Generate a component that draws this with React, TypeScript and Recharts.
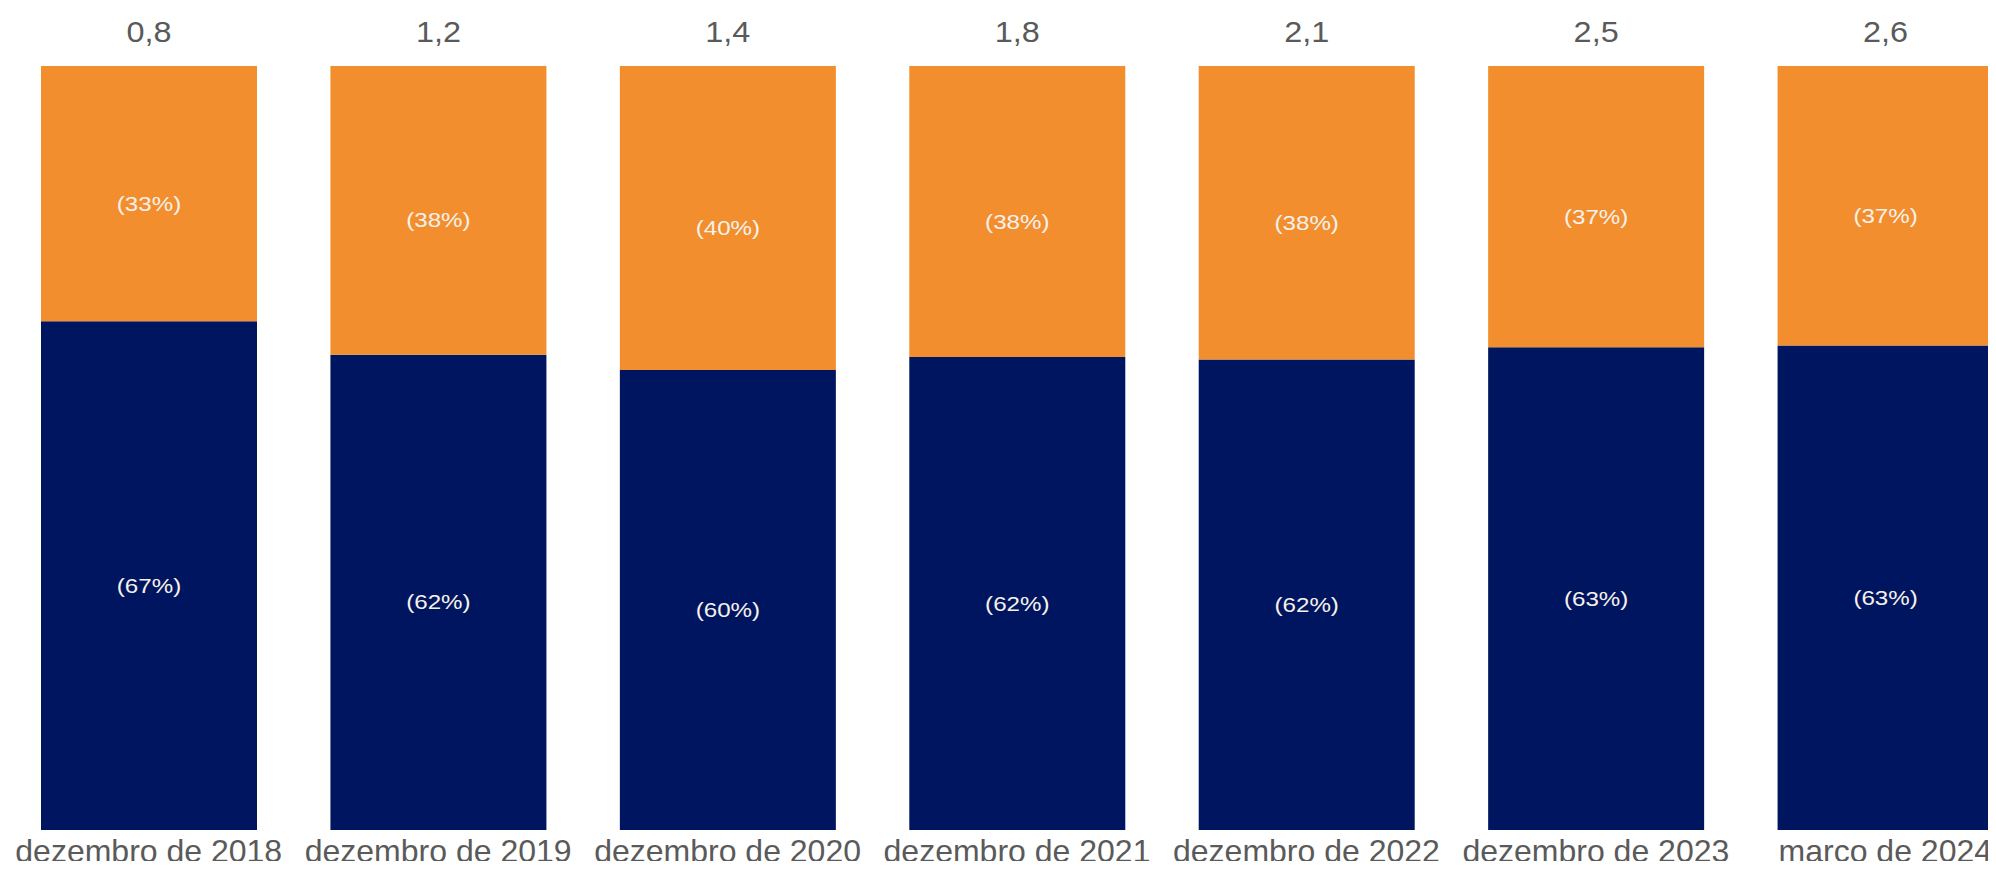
import React from 'react'
import { BarChart, Bar, XAxis, YAxis, LabelList } from 'recharts'

const periods = [
  'dezembro de 2018',
  'dezembro de 2019',
  'dezembro de 2020',
  'dezembro de 2021',
  'dezembro de 2022',
  'dezembro de 2023',
  'março de 2024',
]
const totals = [0.8, 1.2, 1.4, 1.8, 2.1, 2.5, 2.6]
const navyShare = [66.6, 62.2, 60.2, 61.9, 61.6, 63.2, 63.4]
const orangeShare = [33.4, 37.8, 39.8, 38.1, 38.4, 36.8, 36.6]

const NAVY = '#00155F'
const ORANGE = '#F28E2E'
const GREY = '#5a5a5a'
const FONT = '"Liberation Sans", Arial, sans-serif'

const data = periods.map((p, i) => ({
  period: p,
  total: totals[i],
  navy: navyShare[i],
  orange: orangeShare[i],
}))

const fmtComma = (v: number) => v.toFixed(1).replace('.', ',')

function ShareLabel(props: any) {
  const { x, y, width, height, value } = props
  const cx = x + width / 2
  const cy = y + height / 2 + 10
  return (
    <text
      x={0}
      y={0}
      transform={`translate(${cx},${cy}) scale(1.15,1)`}
      textAnchor="middle"
      dominantBaseline="central"
      fill="#f6f1ea"
      fontSize={21}
      fontFamily={FONT}
    >
      {`(${Math.round(value)}%)`}
    </text>
  )
}

function TotalLabel(props: any) {
  const { x, y, width, value } = props
  const cx = x + width / 2
  return (
    <text
      x={0}
      y={0}
      transform={`translate(${cx},${y - 34}) scale(1.08,1)`}
      textAnchor="middle"
      dominantBaseline="central"
      fill={GREY}
      fontSize={30}
      fontFamily={FONT}
    >
      {fmtComma(value)}
    </text>
  )
}

// plot bottom is at 830px; the period labels sit just under it
const PLOT_BOTTOM = 830

function PeriodTick(props: any) {
  const { x, payload } = props
  return (
    <text x={x} y={PLOT_BOTTOM + 32} textAnchor="middle" fill={GREY} fontSize={32} fontFamily={FONT}>
      {payload.value}
    </text>
  )
}

function DotTick(props: any) {
  const { y } = props
  return <circle cx={2} cy={y} r={1.2} fill="#777" />
}

export default function App() {
  return (
    <div style={{ margin: -8, width: 1996, height: 869, overflow: 'hidden', background: '#fff' }}>
      <BarChart
        width={2040}
        height={869}
        data={data}
        margin={{ top: 66, right: 10, bottom: 0, left: 0 }}
      >
        <YAxis
          width={4}
          domain={[0, 100]}
          ticks={[0, 100]}
          axisLine={false}
          tickLine={false}
          tick={<DotTick />}
        />
        <XAxis
          dataKey="period"
          height={39}
          axisLine={false}
          tickLine={false}
          tickSize={0}
          tickMargin={0}
          interval={0}
          tick={<PeriodTick />}
        />
        <Bar dataKey="navy" stackId="s" fill={NAVY} barSize={216} isAnimationActive={false}>
          <LabelList dataKey="navy" content={<ShareLabel />} />
        </Bar>
        <Bar dataKey="orange" stackId="s" fill={ORANGE} barSize={216} isAnimationActive={false}>
          <LabelList dataKey="orange" content={<ShareLabel />} />
          <LabelList dataKey="total" content={<TotalLabel />} />
        </Bar>
      </BarChart>
    </div>
  )
}
